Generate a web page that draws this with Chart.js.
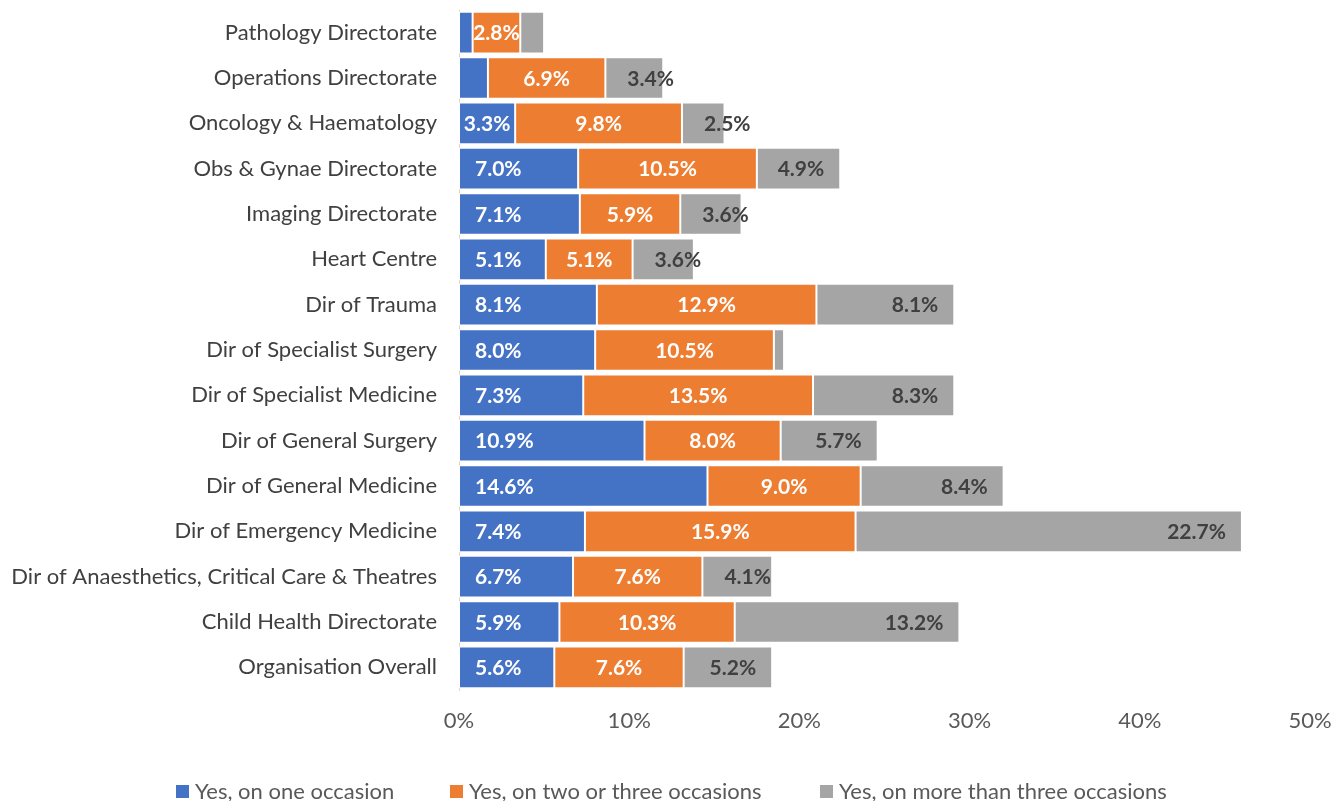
<!DOCTYPE html>
<html>
<head>
<meta charset="utf-8">
<script src="https://cdn.jsdelivr.net/npm/chart.js@4.4.1/dist/chart.umd.min.js"></script>
<style>
  html, body { margin: 0; padding: 0; background: #fff; }
  #wrap { width: 1335px; height: 801px; position: relative; }
</style>
</head>
<body>
<div id="wrap"><canvas id="graph"></canvas></div>
<script>
const categories = [
  "Pathology Directorate",
  "Operations Directorate",
  "Oncology & Haematology",
  "Obs & Gynae Directorate",
  "Imaging Directorate",
  "Heart Centre",
  "Dir of Trauma",
  "Dir of Specialist Surgery",
  "Dir of Specialist Medicine",
  "Dir of General Surgery",
  "Dir of General Medicine",
  "Dir of Emergency Medicine",
  "Dir of Anaesthetics, Critical Care & Theatres",
  "Child Health Directorate",
  "Organisation Overall",
];

const seriesNames = [
  "Yes, on one occasion",
  "Yes, on two or three occasions",
  "Yes, on more than three occasions",
];

const oneOccasion = [0.8, 1.7, 3.3, 7.0, 7.1, 5.1, 8.1, 8.0, 7.3, 10.9, 14.6, 7.4, 6.7, 5.9, 5.6];
const twoThree = [2.8, 6.9, 9.8, 10.5, 5.9, 5.1, 12.9, 10.5, 13.5, 8.0, 9.0, 15.9, 7.6, 10.3, 7.6];
const moreThanThree = [1.4, 3.4, 2.5, 4.9, 3.6, 3.6, 8.1, 0.6, 8.3, 5.7, 8.4, 22.7, 4.1, 13.2, 5.2];

const xTicks = [0, 10, 20, 30, 40, 50];

const colors = ["#4472C4", "#ED7D31", "#A5A5A5"];
const labelColors = ["#FFFFFF", "#FFFFFF", "#404040"];
const FONT = "Lato, 'Open Sans', sans-serif";

// value labels: blue at the base, orange centred, grey at the end
const barLabels = {
  id: "barLabels",
  afterDatasetsDraw(chart) {
    const ctx = chart.ctx;
    const pad = 16;
    ctx.save();
    ctx.font = "bold 21px " + FONT;
    ctx.textAlign = "left";
    ctx.textBaseline = "middle";
    chart.data.datasets.forEach((ds, i) => {
      const meta = chart.getDatasetMeta(i);
      meta.data.forEach((bar, j) => {
        const v = ds.data[j];
        if (v < 2) return;
        const txt = v.toFixed(1) + "%";
        const w = ctx.measureText(txt).width;
        const { x, y, base } = bar.getProps(["x", "y", "base"], true);
        const segW = x - base;
        const fits = w + pad * 2 <= segW;
        let left = base + (segW - w) / 2;
        if (i === 0 && fits) left = base + pad;
        if (i === 2) left = fits ? x - pad - w : base + 22;
        ctx.fillStyle = labelColors[i];
        ctx.fillText(txt, left, y + 1);
      });
    });
    ctx.restore();
  },
};

// legend drawn by hand so it sits where the original has it
const bottomLegend = {
  id: "bottomLegend",
  afterDraw(chart) {
    const ctx = chart.ctx;
    const starts = [176, 450, 820];
    ctx.save();
    ctx.font = "22px " + FONT;
    ctx.textBaseline = "middle";
    seriesNames.forEach((name, i) => {
      ctx.fillStyle = colors[i];
      ctx.fillRect(starts[i], 785, 13, 13);
      ctx.fillStyle = "#595959";
      ctx.fillText(name, starts[i] + 19, 792);
    });
    ctx.restore();
  },
};

const chart = new Chart(document.getElementById("graph"), {
  type: "bar",
  data: {
    labels: categories,
    datasets: [oneOccasion, twoThree, moreThanThree].map((d, i) => ({
      label: seriesNames[i],
      data: d,
      backgroundColor: colors[i],
      borderColor: "#FFFFFF",
      borderWidth: 1,
      borderSkipped: false,
      barPercentage: 0.92,
      categoryPercentage: 1,
    })),
  },
  options: {
    indexAxis: "y",
    responsive: true,
    maintainAspectRatio: false,
    animation: false,
    layout: { padding: { top: 10, right: 25, bottom: 51, left: 0 } },
    scales: {
      x: {
        stacked: true,
        min: 0,
        max: 50,
        afterBuildTicks(axis) {
          axis.ticks = xTicks.map((v) => ({ value: v }));
        },
        afterFit(axis) {
          axis.height = 60;
          axis.paddingLeft = 0;
          axis.paddingRight = 0;
        },
        grid: { display: false, drawTicks: false },
        border: { display: false },
        ticks: {
          padding: 18,
          color: "#595959",
          font: { family: FONT, size: 22 },
          callback: (v) => v + "%",
          maxRotation: 0,
        },
      },
      y: {
        stacked: true,
        afterFit(axis) {
          axis.width = 459;
          axis.paddingTop = 0;
          axis.paddingBottom = 0;
        },
        grid: { display: false, drawTicks: false },
        border: { display: true, color: "#D9D9D9", width: 1 },
        ticks: {
          padding: 22,
          color: "#404040",
          font: { family: FONT, size: 22 },
          autoSkip: false,
        },
      },
    },
    plugins: {
      legend: { display: false },
      tooltip: { enabled: false },
    },
  },
  plugins: [barLabels, bottomLegend],
});
</script>
</body>
</html>
